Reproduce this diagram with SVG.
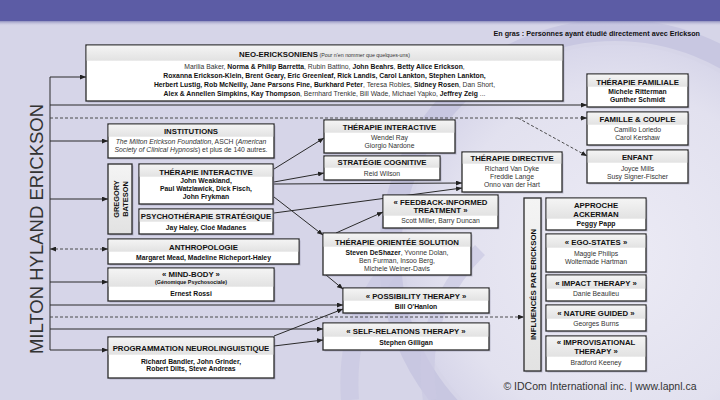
<svg xmlns="http://www.w3.org/2000/svg" width="720" height="400" viewBox="0 0 720 400">
<defs>
<linearGradient id="hdr" x1="0" y1="0" x2="0" y2="1"><stop offset="0" stop-color="#f4f4f4"/><stop offset="1" stop-color="#e2e2e2"/></linearGradient>
<linearGradient id="shade" x1="0" y1="0" x2="0" y2="1"><stop offset="0" stop-color="#8f8fbd"/><stop offset="1" stop-color="#d5d4e8" stop-opacity="0"/></linearGradient>
<radialGradient id="glow" cx="0.5" cy="0.5" r="0.5"><stop offset="0" stop-color="#ecebf5"/><stop offset="0.8" stop-color="#e2e1ef"/><stop offset="1" stop-color="#d8d7ea"/></radialGradient>
<marker id="ah" viewBox="0 0 6 5" refX="6" refY="2.5" markerWidth="6" markerHeight="5" markerUnits="userSpaceOnUse" orient="auto-start-reverse"><path d="M0,0 L6,2.5 L0,5 z" fill="#222"/></marker>
</defs>
<style>
.box{fill:#fff;stroke:#2a2a2a;stroke-width:1.3}
.sh{fill:#6d6c8a;opacity:.35}
.hd{fill:url(#hdr)}
.t{font-family:"Liberation Sans",Arial,sans-serif;font-weight:bold;font-size:7.8px;fill:#111;text-anchor:middle}
.n{font-family:"Liberation Sans",Arial,sans-serif;font-size:6.8px;fill:#333;text-anchor:middle}
.b{font-weight:bold;fill:#111}
.i{font-style:italic}
.c{fill:none;stroke:#2a2a2a;stroke-width:1}
.d{fill:none;stroke:#3a3a3a;stroke-width:0.9;stroke-dasharray:3 2}
.a{marker-end:url(#ah)}
</style>
<rect x="0" y="0" width="720" height="400" fill="#d6d5e8"/>
<circle cx="615" cy="255" r="225" fill="none" stroke="#c8c7e1" stroke-width="22"/>
<circle cx="615" cy="255" r="210" fill="url(#glow)"/>
<path d="M350,400 C345,330 370,280 420,240" fill="none" stroke="#cac9e2" stroke-width="18" opacity="0.8"/>
<path d="M430,400 C420,340 440,290 480,250" fill="none" stroke="#cac9e2" stroke-width="14" opacity="0.7"/>
<rect x="0" y="21" width="720" height="5" fill="url(#shade)"/>
<rect x="0" y="0" width="720" height="21" fill="#5c5ca5"/>
<text x="700" y="36" font-family="Liberation Sans, Arial, sans-serif" font-weight="bold" font-size="7.2" fill="#111" text-anchor="end">En gras : Personnes ayant étudié directement avec Erickson</text>
<text transform="translate(43,229) rotate(-90)" font-family="Liberation Sans, Arial, sans-serif" font-size="18.5" fill="#333" text-anchor="middle">MILTON HYLAND ERICKSON</text>

<g id="connectors">
<path class="c" d="M50,77 V350"/>
<path class="c a" d="M50,77 H86"/>
<path class="c a" d="M50,105 H587"/>
<path class="d a" d="M50,118 H587"/>
<path class="d a" d="M518,118 L587,156"/>
<path class="c a" d="M50,141 H108"/>
<path class="c a" d="M50,199 H108"/>
<path class="d a" d="M50,249 H108" marker-start="url(#ah)"/>
<path class="c a" d="M50,282 H108"/>
<path class="c a" d="M50,305 H343"/>
<path class="d a" d="M50,317 H524"/>
<path class="c a" d="M50,329 H323"/>
<path class="c a" d="M50,350 H108"/>
<path class="c a" d="M274,169 L324,138"/>
<path class="c a" d="M274,182 L324,173"/>
<path class="c a" d="M274,184 L462,183"/>
<path class="c a" d="M274,213 L462,188"/>
<path class="c a" d="M274,197 L323,235"/>
<path class="c a" d="M336,233 L383,212"/>
<path class="c a" d="M326,275 L343,289"/>
<path class="c a" d="M274,336 L343,309"/>
<path class="c a" d="M274,346 L323,340"/>
</g>

<g id="neo">
<rect class="sh" x="87.5" y="46.5" width="477" height="56"/>
<rect class="box" x="86" y="45" width="477" height="56"/>
<rect class="hd" x="86.7" y="45.7" width="475.6" height="15"/>
<text class="t" x="324.5" y="57">NEO-ERICKSONIENS<tspan font-weight="normal" font-size="5.3" fill="#333"> (Pour n'en nommer que quelques-uns)</tspan></text>
<text class="n" x="324.5" y="69">Marilia Baker, <tspan class="b">Norma &amp; Philip Barretta</tspan>, Rubin Battino, <tspan class="b">John Beahrs</tspan>, <tspan class="b">Betty Alice Erickson</tspan>,</text>
<text class="n b" x="324.5" y="78">Roxanna Erickson-Klein, Brent Geary, Eric Greenleaf, Rick Landis, Carol Lankton, Stephen Lankton,</text>
<text class="n" x="324.5" y="86.8"><tspan class="b">Herbert Lustig, Rob McNeilly, Jane Parsons Fine, Burkhard Peter</tspan>, Teresa Robles, <tspan class="b">Sidney Rosen</tspan>, Dan Short,</text>
<text class="n" x="324.5" y="95.5"><tspan class="b">Alex &amp; Annellen Simpkins, Kay Thompson</tspan>, Bernhard Trenkle, Bill Wade, Michael Yapko, <tspan class="b">Jeffrey Zeig</tspan> ...</text>
</g>

<g id="therapie-familiale">
<rect class="sh" x="588.5" y="75.5" width="101" height="33"/>
<rect class="box" x="587" y="74" width="101" height="33"/>
<rect class="hd" x="587.7" y="74.7" width="99.6" height="12"/>
<text class="t" x="637.5" y="85">THÉRAPIE FAMILIALE</text>
<text class="n b" x="637.5" y="94">Michele Ritterman</text>
<text class="n b" x="637.5" y="102">Gunther Schmidt</text>
</g>

<g id="famille-couple">
<rect class="sh" x="588.5" y="113.5" width="101" height="33"/>
<rect class="box" x="587" y="112" width="101" height="33"/>
<rect class="hd" x="587.7" y="112.7" width="99.6" height="12"/>
<text class="t" x="637.5" y="122">FAMILLE &amp; COUPLE</text>
<text class="n" x="637.5" y="131.5">Camillo Loriedo</text>
<text class="n" x="637.5" y="139.5">Carol Kershaw</text>
</g>

<g id="enfant">
<rect class="sh" x="588.5" y="151.5" width="101" height="33"/>
<rect class="box" x="587" y="150" width="101" height="33"/>
<rect class="hd" x="587.7" y="150.7" width="99.6" height="12"/>
<text class="t" x="637.5" y="160">ENFANT</text>
<text class="n" x="637.5" y="170.5">Joyce Mills</text>
<text class="n" x="637.5" y="178.5">Susy Signer-Fischer</text>
</g>

<g id="institutions">
<rect class="sh" x="109.5" y="125.5" width="166" height="34"/>
<rect class="box" x="108" y="124" width="166" height="34"/>
<rect class="hd" x="108.7" y="124.7" width="164.6" height="12"/>
<text class="t" x="191" y="134">INSTITUTIONS</text>
<text class="n" x="191" y="143.5"><tspan class="i">The Milton Erickson Foundation</tspan>, ASCH (<tspan class="i">American</tspan></text>
<text class="n" x="191" y="151.5"><tspan class="i">Society of Clinical Hypnosis</tspan>) et plus de 140 autres.</text>
</g>

<g id="gregory-bateson">
<rect class="sh" x="109.5" y="165.5" width="24" height="70"/>
<rect class="box" x="108" y="164" width="24" height="70" style="fill:url(#hdr)"/>
<text class="t" transform="translate(118.5,199) rotate(-90)" style="font-size:7.4px">GREGORY</text>
<text class="t" transform="translate(127.5,199) rotate(-90)" style="font-size:7.4px">BATESON</text>
</g>

<g id="therapie-interactive-1">
<rect class="sh" x="140.5" y="165.5" width="134" height="40"/>
<rect class="box" x="139" y="164" width="134" height="40"/>
<rect class="hd" x="139.7" y="164.7" width="132.6" height="12"/>
<text class="t" x="206" y="174.5">THÉRAPIE INTERACTIVE</text>
<text class="n b" x="206" y="182.5">John Weakland,</text>
<text class="n b" x="206" y="190.5">Paul Watzlawick, Dick Fisch,</text>
<text class="n b" x="206" y="198.5">John Frykman</text>
</g>

<g id="psychotherapie-strategique">
<rect class="sh" x="140.5" y="210.5" width="134" height="25"/>
<rect class="box" x="139" y="209" width="134" height="25"/>
<rect class="hd" x="139.7" y="209.7" width="132.6" height="12"/>
<text class="t" x="206" y="219">PSYCHOTHÉRAPIE STRATÉGIQUE</text>
<text class="n b" x="206" y="229.5">Jay Haley, Cloé Madanes</text>
</g>

<g id="anthropologie">
<rect class="sh" x="109.5" y="240.5" width="191" height="25"/>
<rect class="box" x="108" y="239" width="191" height="25"/>
<rect class="hd" x="108.7" y="239.7" width="189.6" height="12"/>
<text class="t" x="203.5" y="249.5">ANTHROPOLOGIE</text>
<text class="n b" x="203.5" y="259.5">Margaret Mead, Madeline Richeport-Haley</text>
</g>

<g id="mind-body">
<rect class="sh" x="109.5" y="269.5" width="166" height="33"/>
<rect class="box" x="108" y="268" width="166" height="33"/>
<rect class="hd" x="108.7" y="268.7" width="164.6" height="18"/>
<text class="t" x="191" y="277">« MIND-BODY »</text>
<text class="n b" x="191" y="284.2" style="font-size:5.4px">(Génomique Psychosociale)</text>
<text class="n b" x="191" y="295.5">Ernest Rossi</text>
</g>

<g id="pnl">
<rect class="sh" x="109.5" y="338.5" width="166" height="41"/>
<rect class="box" x="108" y="337" width="166" height="41"/>
<rect class="hd" x="108.7" y="337.7" width="164.6" height="17"/>
<text class="t" x="191" y="350.5">PROGRAMMATION NEUROLINGUISTIQUE</text>
<text class="n b" x="191" y="363.5">Richard Bandler, John Grinder,</text>
<text class="n b" x="191" y="370.5">Robert Dilts, Steve Andreas</text>
</g>

<g id="therapie-interactive-2">
<rect class="sh" x="325.5" y="121.5" width="131" height="33"/>
<rect class="box" x="324" y="120" width="131" height="33"/>
<rect class="hd" x="324.7" y="120.7" width="129.6" height="12"/>
<text class="t" x="389.5" y="130">THÉRAPIE INTERACTIVE</text>
<text class="n" x="389.5" y="139.5">Wendel Ray</text>
<text class="n" x="389.5" y="147.5">Giorgio Nardone</text>
</g>

<g id="strategie-cognitive">
<rect class="sh" x="325.5" y="157.5" width="116" height="24"/>
<rect class="box" x="324" y="156" width="116" height="24"/>
<rect class="hd" x="324.7" y="156.7" width="114.6" height="11"/>
<text class="t" x="382" y="165">STRATÉGIE COGNITIVE</text>
<text class="n" x="382" y="175.5">Reid Wilson</text>
</g>

<g id="therapie-directive">
<rect class="sh" x="463.5" y="153.5" width="100" height="40"/>
<rect class="box" x="462" y="152" width="100" height="40"/>
<rect class="hd" x="462.7" y="152.7" width="98.6" height="11"/>
<text class="t" x="512" y="161">THÉRAPIE DIRECTIVE</text>
<text class="n" x="512" y="170.5">Richard Van Dyke</text>
<text class="n" x="512" y="178.5">Freddie Lange</text>
<text class="n" x="512" y="186.5">Onno van der Hart</text>
</g>

<g id="feedback">
<rect class="sh" x="384.5" y="196.5" width="115" height="33"/>
<rect class="box" x="383" y="195" width="115" height="33"/>
<rect class="hd" x="383.7" y="195.7" width="113.6" height="20"/>
<text class="t" x="440.5" y="205">« FEEDBACK-INFORMED</text>
<text class="t" x="440.5" y="213">TREATMENT »</text>
<text class="n" x="440.5" y="222.5">Scott Miller, Barry Duncan</text>
</g>

<g id="therapie-orientee-solution">
<rect class="sh" x="324.5" y="234.5" width="148" height="42"/>
<rect class="box" x="323" y="233" width="148" height="42"/>
<rect class="hd" x="323.7" y="233.7" width="146.6" height="13"/>
<text class="t" x="397" y="244.5">THÉRAPIE ORIENTÉE SOLUTION</text>
<text class="n" x="397" y="254.5"><tspan class="b">Steven DeShazer</tspan>, Yvonne Dolan,</text>
<text class="n" x="397" y="262.5">Ben Furman, Insoo Berg,</text>
<text class="n" x="397" y="270.5">Michele Weiner-Davis</text>
</g>

<g id="possibility-therapy">
<rect class="sh" x="344.5" y="289.5" width="146" height="25"/>
<rect class="box" x="343" y="288" width="146" height="25"/>
<rect class="hd" x="343.7" y="288.7" width="144.6" height="12"/>
<text class="t" x="416" y="298.5">« POSSIBILITY THERAPY »</text>
<text class="n b" x="416" y="308.5">Bill O'Hanlon</text>
</g>

<g id="self-relations-therapy">
<rect class="sh" x="324.5" y="324.5" width="166" height="27"/>
<rect class="box" x="323" y="323" width="166" height="27"/>
<rect class="hd" x="323.7" y="323.7" width="164.6" height="13"/>
<text class="t" x="406" y="334">« SELF-RELATIONS THERAPY »</text>
<text class="n b" x="406" y="344.5">Stephen Gilligan</text>
</g>

<g id="influences">
<rect class="sh" x="525.5" y="199.5" width="17" height="173"/>
<rect class="box" x="524" y="198" width="17" height="173" style="fill:url(#hdr)"/>
<text class="t" transform="translate(535.5,284.5) rotate(-90)">INFLUENCÉS PAR ERICKSON</text>
</g>

<g id="approche-ackerman">
<rect class="sh" x="547.5" y="199.5" width="100" height="32"/>
<rect class="box" x="546" y="198" width="100" height="32"/>
<rect class="hd" x="546.7" y="198.7" width="98.6" height="20"/>
<text class="t" x="596" y="208">APPROCHE</text>
<text class="t" x="596" y="217">ACKERMAN</text>
<text class="n b" x="596" y="225.5">Peggy Papp</text>
</g>

<g id="ego-states">
<rect class="sh" x="547.5" y="235.5" width="100" height="38"/>
<rect class="box" x="546" y="234" width="100" height="38"/>
<rect class="hd" x="546.7" y="234.7" width="98.6" height="13"/>
<text class="t" x="596" y="245">« EGO-STATES »</text>
<text class="n" x="596" y="255.5">Maggie Philips</text>
<text class="n" x="596" y="263.5">Woltemade Hartman</text>
</g>

<g id="impact-therapy">
<rect class="sh" x="547.5" y="276.5" width="100" height="26"/>
<rect class="box" x="546" y="275" width="100" height="26"/>
<rect class="hd" x="546.7" y="275.7" width="98.6" height="13"/>
<text class="t" x="596" y="286">« IMPACT THERAPY »</text>
<text class="n" x="596" y="295.5">Danie Beaulieu</text>
</g>

<g id="nature-guided">
<rect class="sh" x="547.5" y="306.5" width="100" height="26"/>
<rect class="box" x="546" y="305" width="100" height="26"/>
<rect class="hd" x="546.7" y="305.7" width="98.6" height="13"/>
<text class="t" x="596" y="316">« NATURE GUIDED »</text>
<text class="n" x="596" y="325.5">Georges Burns</text>
</g>

<g id="improvisational-therapy">
<rect class="sh" x="547.5" y="337.5" width="100" height="35"/>
<rect class="box" x="546" y="336" width="100" height="35"/>
<rect class="hd" x="546.7" y="336.7" width="98.6" height="20"/>
<text class="t" x="596" y="345">« IMPROVISATIONAL</text>
<text class="t" x="596" y="353.5">THERAPY »</text>
<text class="n" x="596" y="364.5">Bradford Keeney</text>
</g>

<text x="600" y="390" font-family="Liberation Sans, Arial, sans-serif" font-size="10.5" fill="#333" text-anchor="middle">© IDCom International inc. | www.lapnl.ca</text>
</svg>
